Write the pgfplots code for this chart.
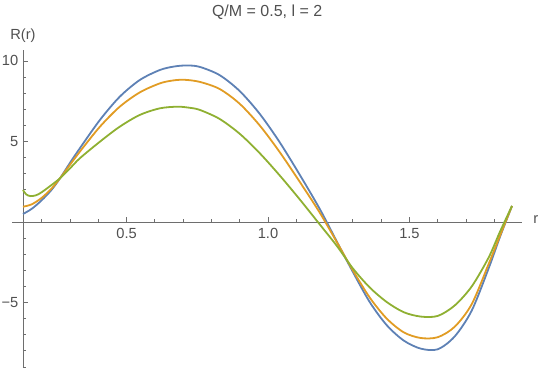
\documentclass[border=0pt]{standalone}
\usepackage{fontspec}
\setmainfont{Liberation Sans}
\usepackage{pgfplots}
\pgfplotsset{compat=1.18}
\usepackage{pgfplotstable}
\definecolor{mblue}{RGB}{94,129,181}
\definecolor{morange}{RGB}{225,156,36}
\definecolor{mgreen}{RGB}{143,176,50}
\definecolor{axgray}{RGB}{110,110,110}
\definecolor{txgray}{RGB}{80,80,80}

\pgfplotstableread{
r y
0.134 0.5
0.165 0.82
0.2 1.35
0.235 2.0
0.265 2.72
0.30 3.67
0.335 4.58
0.406 6.34
0.476 7.78
0.547 8.82
0.618 9.44
0.67 9.66
0.715 9.72
0.759 9.63
0.829 9.12
0.900 8.13
0.971 6.71
1.041 4.96
1.112 2.94
1.183 0.81
1.245 -1.27
1.30 -3.1
1.36 -4.98
1.42 -6.41
1.48 -7.36
1.54 -7.86
1.60 -7.9
1.66 -7.1
1.72 -5.5
1.78 -2.87
1.82 -0.92
1.8625 1.0
}\blue

\pgfplotstableread{
r y
0.134 0.95
0.165 1.1
0.2 1.5
0.235 2.08
0.265 2.72
0.30 3.55
0.335 4.37
0.406 5.92
0.476 7.16
0.547 8.05
0.618 8.61
0.665 8.79
0.705 8.83
0.759 8.7
0.829 8.26
0.900 7.34
0.971 5.99
1.041 4.35
1.112 2.5
1.183 0.58
1.245 -1.3
1.30 -3.0
1.36 -4.7
1.42 -6.0
1.48 -6.85
1.54 -7.2
1.60 -7.15
1.66 -6.5
1.72 -5.1
1.78 -2.6
1.82 -0.85
1.8625 1.0
}\orange

\pgfplotstableread{
r y
0.134 1.99
0.145 1.72
0.16 1.61
0.18 1.66
0.2 1.85
0.235 2.3
0.265 2.72
0.30 3.33
0.335 3.96
0.406 4.99
0.476 5.92
0.547 6.65
0.618 7.06
0.68 7.16
0.72 7.1
0.759 6.96
0.829 6.4
0.900 5.48
0.971 4.27
1.041 2.9
1.112 1.41
1.183 -0.15
1.245 -1.52
1.30 -2.88
1.36 -4.07
1.42 -4.97
1.48 -5.6
1.54 -5.87
1.60 -5.83
1.66 -5.18
1.72 -4.0
1.78 -2.2
1.82 -0.6
1.8625 1.0
}\green

\begin{document}
\begin{tikzpicture}
\begin{axis}[
  scale only axis,
  width=374.5pt, height=237.75pt,
  xmin=0.134, xmax=1.899,
  ymin=-9.0, ymax=10.68,
  axis x line=middle,
  axis y line=left,
  axis line style={-, axgray, line width=0.6pt},
  every tick/.style={axgray, line width=0.6pt},
  tick align=inside,
  major tick length=4pt,
  minor tick length=2.3pt,
  xtick={0.5,1,1.5},
  xticklabels={0.5,1.0,1.5},
  minor xtick={0.2,0.3,0.4,0.6,0.7,0.8,0.9,1.1,1.2,1.3,1.4,1.6,1.7,1.8,1.9},
  ytick={-5,5,10},
  yticklabels={−5,5,10},
  minor ytick={-9,-8,-7,-6,-4,-3,-2,-1,1,2,3,4,6,7,8,9},
  tick label style={font=\fontsize{11}{13}\selectfont, text=txgray},
  xticklabel style={yshift=-1pt},
  clip=false,
]
\addplot[mblue, line width=1.35pt, smooth] table[x=r,y=y] {\blue};
\addplot[morange, line width=1.35pt, smooth] table[x=r,y=y] {\orange};
\addplot[mgreen, line width=1.35pt, smooth] table[x=r,y=y] {\green};
\draw[axgray, line width=0.6pt] (axis cs:0.096,0) -- (axis cs:0.134,0);
\node[text=txgray, font=\fontsize{12}{14}\selectfont] at (rel axis cs:0.489,1.12) {Q/M = 0.5, l = 2};
\node[text=txgray, font=\fontsize{11}{13}\selectfont] at (rel axis cs:0.0,1.044) {R(r)};
\node[text=txgray, font=\fontsize{11}{13}\selectfont] at (rel axis cs:1.027,0.464) {r};
\end{axis}
\pgfresetboundingbox
\path (current axis.south west) ++(-17.25pt,0pt) coordinate (bbA);
\path (current axis.north east) ++(14.0pt,37.5pt) coordinate (bbB);
\useasboundingbox (bbA) rectangle (bbB);
\end{tikzpicture}
\end{document}
